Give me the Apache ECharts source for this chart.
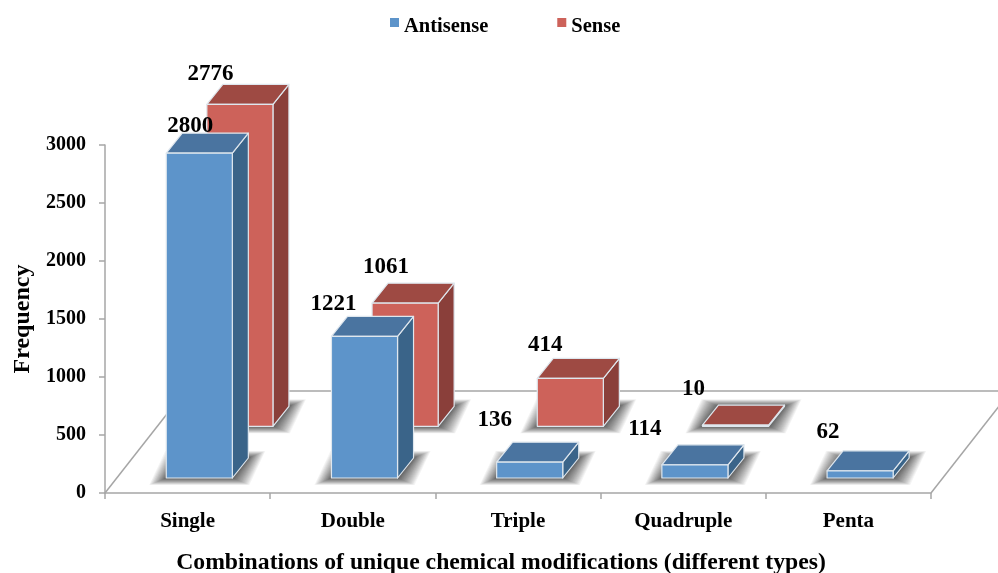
<!DOCTYPE html>
<html>
<head>
<meta charset="utf-8">
<style>html,body{margin:0;padding:0;background:#fff}#chart{width:998px;height:573px}</style>
<script src="https://cdn.jsdelivr.net/npm/echarts@6/dist/echarts.min.js"></script>
</head>
<body>
<div id="chart"></div>
<script>
// Frequency of chemical modification combinations per strand
const categories = ['Single', 'Double', 'Triple', 'Quadruple', 'Penta'];
const antisense = [2800, 1221, 136, 114, 62];
const sense = [2776, 1061, 414, 10];

const FONT = '"Liberation Serif", "Times New Roman", serif';
const AXIS_GREY = '#a6a6a6';

// Oblique projection of the floor and of each bar's depth
const FLOOR_DEPTH = [80, -102];
const BAR_DEPTH = [16, -20];
const BAR_RATIO = 0.4;

const palettes = {
  Antisense: { front: '#5d94ca', top: '#4a74a0', side: '#3a6489', row: [11.7, -15],
    // value label offsets from the top centre of the bar's front face
    labels: [[-9, -27], [-31, -32], [-35, -42], [-50, -36], [-32, -39]] },
  Sense: { front: '#cd625a', top: '#9e4a43', side: '#8a3f3a', row: [52.3, -66.7],
    labels: [[-29.5, -30], [-19, -36], [-25, -33], [-42, -36]] }
};

// Soft contact shadow: stacked translucent footprints, wider sideways than in depth,
// spaced more tightly near the bar so the falloff has a long pale tail
function softShadow(x0, x1, yB, dx, dy) {
  const layers = [];
  const steps = 24;
  for (let k = steps; k >= 1; k--) {
    const t = Math.pow(k / steps, 1.4);
    const sx = t * 17;
    const sy = t * 7;
    layers.push({
      type: 'polygon',
      shape: {
        points: [
          [x0 - sx, yB + sy], [x1 + sx, yB + sy],
          [x1 + dx + sx, yB + dy - sy], [x0 + dx - sx, yB + dy - sy]
        ]
      },
      style: { fill: '#303030', opacity: 0.05 }
    });
  }
  return layers;
}

function prism(name) {
  const p = palettes[name];
  return function (params, api) {
    const idx = api.value(0);
    const val = api.value(1);
    const base = api.coord([idx, 0]);
    const top = api.coord([idx, val]);
    const w = api.size([1, 0])[0] * BAR_RATIO;
    const x0 = base[0] + p.row[0] - w / 2;
    const x1 = x0 + w;
    const yB = base[1] + p.row[1];
    const yT = top[1] + p.row[1];
    const [dx, dy] = BAR_DEPTH;
    const edge = { stroke: '#dfe7ee', lineWidth: 1.2, lineJoin: 'round' };
    const poly = (points, fill) => ({
      type: 'polygon', shape: { points }, style: Object.assign({ fill }, edge)
    });
    const off = p.labels[idx];
    return {
      type: 'group',
      children: softShadow(x0, x1, yB, dx, dy).concat([
        poly([[x1, yT], [x1 + dx, yT + dy], [x1 + dx, yB + dy], [x1, yB]], p.side),
        poly([[x0, yT], [x1, yT], [x1 + dx, yT + dy], [x0 + dx, yT + dy]], p.top),
        poly([[x0, yT], [x1, yT], [x1, yB], [x0, yB]], p.front),
        {
          type: 'text',
          x: (x0 + x1) / 2 + off[0],
          y: yT + off[1],
          style: {
            text: String(val), fill: '#000', font: 'bold 23px ' + FONT,
            align: 'center', verticalAlign: 'middle'
          }
        }
      ])
    };
  };
}

// Side edges and back edge of the floor plane
function floor(params) {
  const cs = params.coordSys;
  const y0 = cs.y + cs.height;
  const [dx, dy] = FLOOR_DEPTH;
  const line = (x1, y1, x2, y2) => ({
    type: 'line', shape: { x1, y1, x2, y2 },
    style: { stroke: AXIS_GREY, lineWidth: 1.5 }
  });
  return {
    type: 'group',
    children: [
      line(cs.x, y0, cs.x + dx, y0 + dy),
      line(cs.x + cs.width, y0, cs.x + cs.width + dx, y0 + dy),
      line(cs.x + dx, y0 + dy, cs.x + cs.width + dx, y0 + dy)
    ]
  };
}

// Legend swatch sits high in its icon box: a square plus an empty point below it
const SWATCH = 'path://M0,0L9,0L9,9L0,9ZM0,17L0,17Z';

const chart = echarts.init(document.getElementById('chart'), null, { renderer: 'canvas' });
chart.setOption({
  animation: false,
  backgroundColor: '#fff',
  legend: {
    left: 385, top: 11, itemWidth: 9, itemHeight: 17, itemGap: 69, icon: SWATCH,
    data: ['Antisense', 'Sense'],
    textStyle: { fontFamily: FONT, fontWeight: 'bold', fontSize: 20.5, color: '#000' }
  },
  grid: { left: 105, right: 67, top: 145, bottom: 80, outerBoundsMode: 'none' },
  xAxis: {
    type: 'category', data: categories,
    axisLine: { lineStyle: { color: AXIS_GREY, width: 1.5 } },
    axisTick: { show: true, alignWithLabel: false, length: 6, lineStyle: { color: AXIS_GREY, width: 1.5 } },
    axisLabel: { fontFamily: FONT, fontWeight: 'bold', fontSize: 21, color: '#000', margin: 18 },
    name: 'Combinations of unique chemical modifications (different types)',
    nameLocation: 'middle', nameGap: 58,
    nameTextStyle: { fontFamily: FONT, fontWeight: 'bold', fontSize: 23.7, color: '#000', padding: [0, 34, 0, 0] }
  },
  yAxis: {
    type: 'value', min: 0, max: 3000, interval: 500,
    splitLine: { show: false },
    axisLine: { show: true, lineStyle: { color: AXIS_GREY, width: 1.5 } },
    axisTick: { show: true, length: 6, lineStyle: { color: AXIS_GREY, width: 1.5 } },
    axisLabel: { fontFamily: FONT, fontWeight: 'bold', fontSize: 20, color: '#000', margin: 19, formatter: v => String(v) },
    name: 'Frequency', nameLocation: 'middle', nameGap: 69,
    nameTextStyle: { fontFamily: FONT, fontWeight: 'bold', fontSize: 24, color: '#000' }
  },
  series: [
    { type: 'custom', name: 'floor', renderItem: floor, data: [[0, 0]], silent: true, z: 1 },
    { type: 'custom', name: 'Sense', renderItem: prism('Sense'), itemStyle: { color: palettes.Sense.front },
      data: sense.map((v, i) => [i, v]), encode: { x: 0, y: 1 }, z: 2 },
    { type: 'custom', name: 'Antisense', renderItem: prism('Antisense'), itemStyle: { color: palettes.Antisense.front },
      data: antisense.map((v, i) => [i, v]), encode: { x: 0, y: 1 }, z: 3 }
  ]
});
</script>
</body>
</html>
